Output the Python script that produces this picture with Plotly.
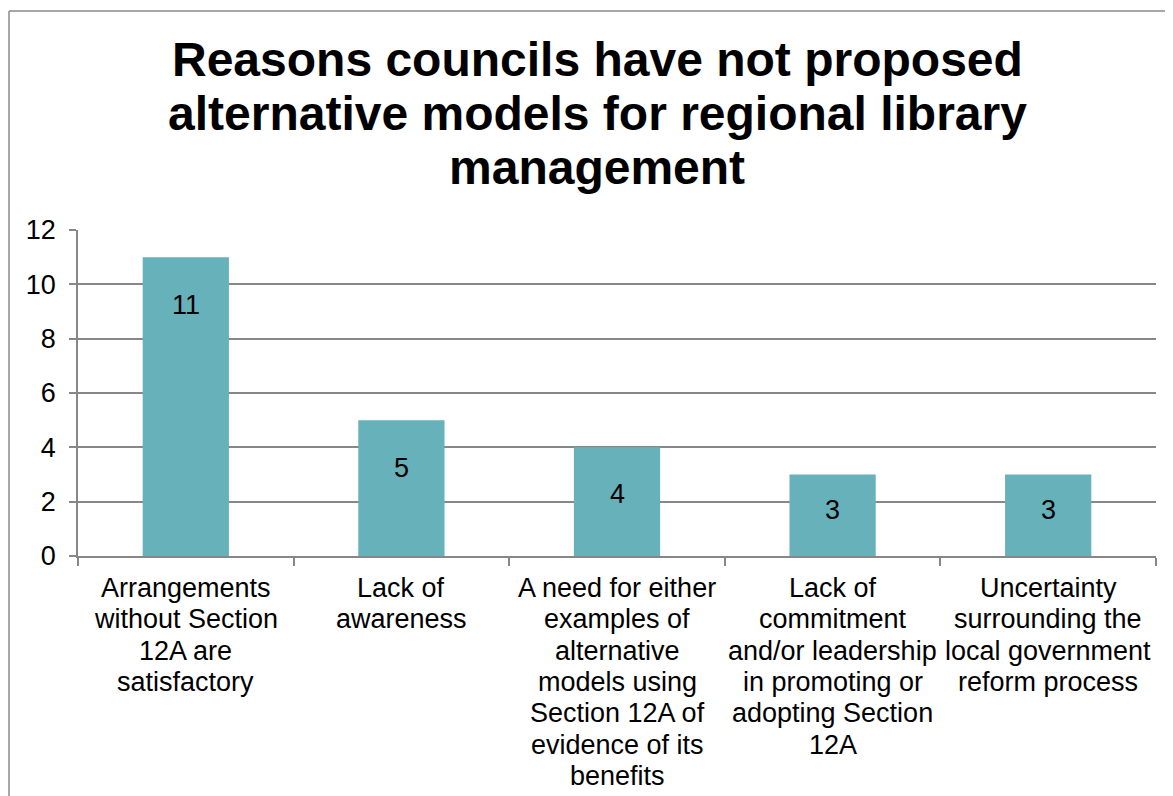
import plotly.graph_objects as go

categories = [
    "Arrangements without Section 12A are satisfactory",
    "Lack of awareness",
    "A need for either examples of alternative models using Section 12A of evidence of its benefits",
    "Lack of commitment and/or leadership in promoting or adopting Section 12A",
    "Uncertainty surrounding the local government reform process",
]
category_lines = [
    ["Arrangements", "without Section", "12A are", "satisfactory"],
    ["Lack of", "awareness"],
    ["A need for either", "examples of", "alternative", "models using", "Section 12A of", "evidence of its", "benefits"],
    ["Lack of", "commitment", "and/or leadership", "in promoting or", "adopting Section", "12A"],
    ["Uncertainty", "surrounding the", "local government", "reform process"],
]
values = [11, 5, 4, 3, 3]
y_ticks = [0, 2, 4, 6, 8, 10, 12]
title_lines = ["Reasons councils have not proposed",
               "alternative models for regional library",
               "management"]

OFF = 8  # page body margin
W, H = 1173, 796
ML, MT = 78 - OFF, 230 - OFF
PR, PB = 1156 - OFF, 556 - OFF
MR, MB = W - PR, H - PB
pw, ph = PR - ML, PB - MT

FONT = "Liberation Sans, Arial, sans-serif"
GRID = "#878787"
BAR = "#67B1BB"


def px_x(sx):
    return (sx - OFF - ML) / pw


def px_y(sy):
    return (PB - (sy - OFF)) / ph


fig = go.Figure()
fig.add_trace(go.Bar(
    x=categories, y=values, marker=dict(color=BAR, line=dict(width=0)),
    width=0.4, hoverinfo="skip",
))

# data labels near the inside end of each bar
for c, v in zip(categories, values):
    fig.add_annotation(x=c, y=max(v - 1.75, v * 0.57), text=str(v), showarrow=False,
                       font=dict(family=FONT, size=27, color="#000000"),
                       xanchor="center", yanchor="middle")

# category labels, one line each (tight line spacing)
for c, lines in zip(categories, category_lines):
    for i, ln in enumerate(lines):
        fig.add_annotation(x=c, y=0, text=ln, showarrow=False, yref="y",
                           yshift=-32 - 31.3 * i, xanchor="center", yanchor="middle",
                           font=dict(family=FONT, size=27, color="#000000"))

# title, one annotation per line
for i, (t, sy) in enumerate(zip(title_lines, [60, 113, 167])):
    fig.add_annotation(xref="paper", yref="paper", x=px_x(597), y=px_y(sy), text=t,
                       showarrow=False, xanchor="center", yanchor="middle",
                       font=dict(family=FONT, size=48, color="#000000", weight="bold"))

# outer frame (left and top edges)
fig.add_shape(type="line", xref="paper", yref="paper",
              x0=px_x(9), x1=px_x(9), y0=px_y(820), y1=px_y(11),
              line=dict(color="#8a8a8a", width=1.5))
fig.add_shape(type="line", xref="paper", yref="paper",
              x0=px_x(9), x1=px_x(1200), y0=px_y(11), y1=px_y(11),
              line=dict(color="#8a8a8a", width=1.5))

fig.update_layout(
    width=W, height=H,
    margin=dict(l=ML, r=MR, t=MT, b=MB, pad=0),
    paper_bgcolor="white", plot_bgcolor="white",
    showlegend=False,
    font=dict(family=FONT, color="#000000"),
)
fig.update_yaxes(
    range=[0, 12], tickvals=y_ticks, ticktext=[str(t) for t in y_ticks],
    showgrid=True, gridcolor=GRID, gridwidth=1.5,
    showline=True, linecolor=GRID, linewidth=1.5,
    ticks="outside", ticklen=7, tickcolor=GRID, tickwidth=1.5,
    ticklabelstandoff=8,
    tickfont=dict(family=FONT, size=27, color="#000000"),
    zeroline=False, fixedrange=True,
)
fig.update_xaxes(
    showline=True, linecolor=GRID, linewidth=1.5,
    ticks="outside", tickson="boundaries", ticklen=8, tickcolor=GRID, tickwidth=1.5,
    showticklabels=False, showgrid=False, fixedrange=True,
)

fig.write_html("out.html")
